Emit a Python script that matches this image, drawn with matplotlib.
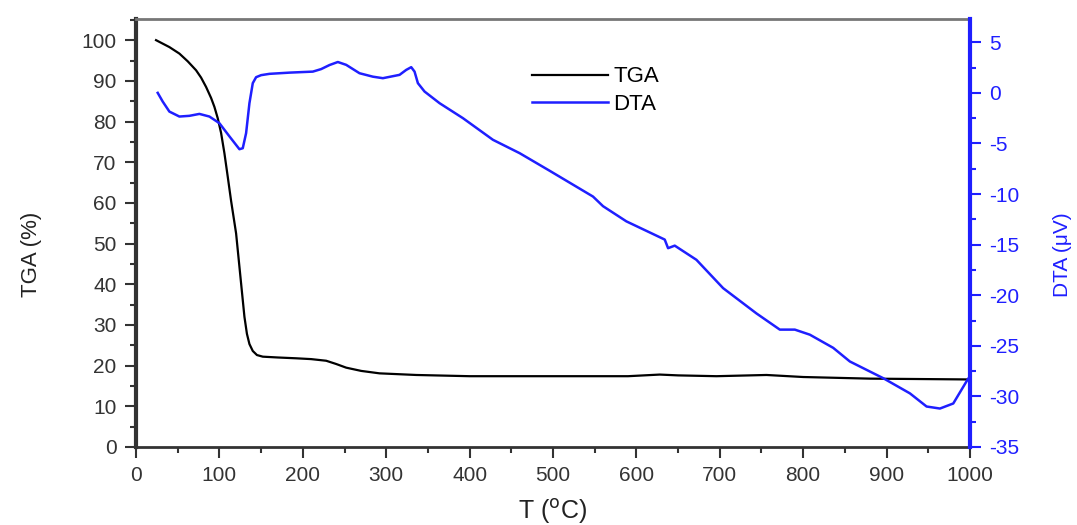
import matplotlib
matplotlib.use('Agg')
import matplotlib.pyplot as plt
from matplotlib.ticker import MultipleLocator

plt.rcParams['font.family'] = ['Liberation Sans', 'DejaVu Sans']
plt.rcParams['axes.unicode_minus'] = False

# TGA curve (left axis, %)
tga_t = [24, 40, 52, 62, 72, 78, 84, 90, 94, 98, 102, 106, 110, 114, 120, 126, 130, 133,
         136, 140, 145, 152, 170, 192, 210, 228, 240, 252, 270, 292, 336, 400, 500, 590,
         628, 650, 696, 756, 800, 880, 1000]
tga_v = [100, 98.3, 96.7, 94.8, 92.6, 90.8, 88.5, 85.8, 83.6, 80.8, 77.2, 72.2, 66.4,
         60.5, 52.5, 40.2, 32.0, 27.8, 25.3, 23.6, 22.6, 22.2, 22.0, 21.8, 21.6, 21.2,
         20.4, 19.5, 18.7, 18.1, 17.7, 17.4, 17.4, 17.4, 17.8, 17.6, 17.4, 17.7, 17.2,
         16.8, 16.6]

# DTA curve (right axis, uV)
dta_t = [26, 32, 40, 52, 64, 76, 88, 100, 112, 124, 128, 132, 136, 140, 144, 150, 160,
         184, 212, 222, 232, 242, 252, 268, 284, 296, 316, 324, 330, 334, 338, 346, 364,
         392, 428, 460, 496, 548, 560, 588, 634, 638, 646, 672, 704, 744, 772, 790, 808,
         836, 856, 896, 928, 948, 964, 980, 996, 1000]
dta_v = [0.0, -0.86, -1.85, -2.34, -2.27, -2.08, -2.34, -3.0, -4.3, -5.57, -5.47, -3.98,
         -1.02, 0.96, 1.55, 1.75, 1.88, 2.0, 2.1, 2.35, 2.75, 3.05, 2.77, 1.94, 1.6, 1.45,
         1.78, 2.27, 2.54, 2.1, 0.96, 0.13, -1.02, -2.5, -4.64, -5.96, -7.7, -10.25,
         -11.2, -12.7, -14.5, -15.35, -15.1, -16.5, -19.3, -21.8, -23.4, -23.4, -23.9,
         -25.2, -26.55, -28.2, -29.7, -31.0, -31.2, -30.7, -28.5, -28.0]

blue = '#1f1fff'

fig = plt.figure(figsize=(10.77, 5.25), dpi=100)
ax = fig.add_axes([0.1263, 0.1486, 0.7743, 0.8152])
ax2 = ax.twinx()

l1, = ax.plot(tga_t, tga_v, color='black', lw=1.6, label='TGA')
l2, = ax2.plot(dta_t, dta_v, color=blue, lw=1.8, label='DTA')

ax.set_xlim(0, 1000)
ax.set_ylim(0, 105.2)
ax2.set_ylim(-35, 7.3)

ax.xaxis.set_major_locator(MultipleLocator(100))
ax.xaxis.set_minor_locator(MultipleLocator(50))
ax.yaxis.set_major_locator(MultipleLocator(10))
ax.yaxis.set_minor_locator(MultipleLocator(5))
ax2.yaxis.set_major_locator(MultipleLocator(5))
ax2.yaxis.set_minor_locator(MultipleLocator(2.5))

ax.tick_params(which='major', direction='out', length=8, width=1.5, labelsize=15,
               colors='#333333', pad=6)
ax.tick_params(which='minor', direction='out', length=4, width=1.5, color='#333333')
ax2.tick_params(axis='y', which='major', direction='out', length=8, width=1.5,
                labelsize=15, colors=blue, pad=6)
ax2.tick_params(axis='y', which='minor', direction='out', length=4, width=1.5, colors=blue)

for s in ['left', 'bottom']:
    ax.spines[s].set_color('#333333')
ax.spines['left'].set_linewidth(3)
ax.spines['bottom'].set_linewidth(2)
ax.spines['top'].set_color('#777777')
ax.spines['top'].set_linewidth(2)
ax2.spines['right'].set_color(blue)
ax2.spines['right'].set_linewidth(3)
ax2.spines['left'].set_visible(False)
ax2.spines['top'].set_visible(False)
ax2.spines['bottom'].set_visible(False)

ax.set_xlabel('T ($^{\\rm o}$C)', fontsize=18, color='#222222')
ax.xaxis.set_label_coords(0.5, -0.118)
ax.set_ylabel('TGA (%)', fontsize=16, color='#222222')
ax.yaxis.set_label_coords(-0.113, 0.45)
ax2.set_ylabel('DTA (\u03bcV)', fontsize=15, color=blue)
ax2.yaxis.set_label_coords(1.1, 0.45)

ax2.legend([l1, l2], ['TGA', 'DTA'], loc='upper left', bbox_to_anchor=(0.462, 0.915),
           frameon=False, fontsize=16, handlelength=3.4, handletextpad=0.25,
           labelspacing=0.3, borderpad=0)

fig.savefig('out.png', dpi=100)
